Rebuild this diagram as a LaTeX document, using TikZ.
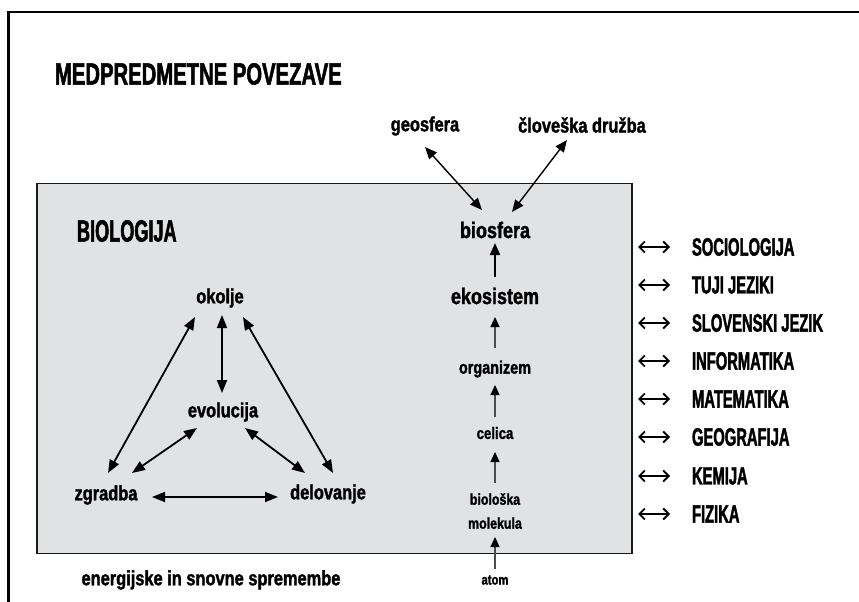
\documentclass[tikz,border=0pt]{standalone}
\usepackage{fontspec}
\setmainfont{Liberation Sans}
\newfontfamily\titlef{Liberation Sans}[FakeStretch=0.66, FakeBold=1.6]
\newfontfamily\capsf{Liberation Sans}[FakeStretch=0.59, FakeBold=1.6]
\newfontfamily\lowf{Liberation Sans}[FakeStretch=0.8, FakeBold=1.6]
\usetikzlibrary{arrows.meta}
\definecolor{boxgray}{HTML}{E1E2E4}
\tikzset{
  base/.style={inner sep=0pt, outer sep=0pt, text=black},
  capt/.style={base, font=\titlef\bfseries\fontsize{30.7}{34}\selectfont},
  capm/.style={base, font=\capsf\bfseries\fontsize{30.7}{34}\selectfont},
  capl/.style={base, font=\capsf\bfseries\fontsize{25}{28}\selectfont},
  lblb/.style={base, font=\lowf\bfseries\fontsize{22.5}{26}\selectfont},
  lblm/.style={base, font=\lowf\bfseries\fontsize{20.5}{24}\selectfont},
  lbls/.style={base, font=\lowf\bfseries\fontsize{15.5}{24}\selectfont},
  tri/.style={arrows={Triangle[length=13pt,width=10pt]-Triangle[length=13pt,width=10pt]}, line width=1.8pt},
  topar/.style={arrows={Triangle[length=12pt,width=10pt]-Triangle[length=12pt,width=10pt]}, line width=1.4pt},
  chainbig/.style={arrows={-Triangle[length=12pt,width=10pt]}, line width=2.2pt},
  chain/.style={arrows={-Triangle[length=10pt,width=9pt,color=black]}, line width=1.2pt, draw=black!70},
  listarr/.style={arrows={Straight Barb[length=5.5pt,width=11pt]-Straight Barb[length=5.5pt,width=11pt]}, line width=1.8pt},
}
\begin{document}
\begin{tikzpicture}[x=1pt,y=-1pt]
\useasboundingbox (0,0) rectangle (859,602);
% outer frame (cropped)
\draw[line width=2.6pt, line join=miter] (8.7,602) -- (8.7,12) -- (859,12);
% inner box
\draw[line width=1.6pt, draw=black!90, fill=boxgray] (37,183.5) rectangle (632,553.5);

% titles
\node[capt, anchor=west] (title) at (55,74) {MEDPREDMETNE POVEZAVE};
\node[capm, anchor=west] (bio) at (77,231) {BIOLOGIJA};

% top labels
\node[lblm] (geo) at (425,126) {geosfera};
\node[lblm] (clov) at (582,125) {človeška družba};

% chain
\node[lblb] (biosfera) at (495,230) {biosfera};
\node[lblb] (ekosistem) at (495,296) {ekosistem};
\node[base, font=\lowf\bfseries\fontsize{18}{22}\selectfont] (organizem) at (495,369) {organizem};
\node[base, font=\lowf\bfseries\fontsize{16.5}{20}\selectfont] (celica) at (495,433) {celica};
\node[lbls, align=center] (biomol) at (495,511) {biološka\\molekula};
\node[base, font=\lowf\bfseries\fontsize{14.1}{17}\selectfont] (atom) at (495,580) {atom};

% triangle
\node[lblm] (okolje) at (220,298) {okolje};
\node[lblm] (evolucija) at (223,412) {evolucija};
\node[lblm] (zgradba) at (106,495) {zgradba};
\node[lblm] (delovanje) at (328,494) {delovanje};

\node[lblm] (energ) at (211,580) {energijske in snovne spremembe};

% subject list
\node[capl, anchor=west] (soc) at (692,247) {SOCIOLOGIJA};
\node[capl, anchor=west] (tuj) at (692,285) {TUJI JEZIKI};
\node[capl, anchor=west] (slo) at (692,323) {SLOVENSKI JEZIK};
\node[capl, anchor=west] (inf) at (692,361) {INFORMATIKA};
\node[capl, anchor=west] (mat) at (692,399) {MATEMATIKA};
\node[capl, anchor=west] (geog) at (692,437) {GEOGRAFIJA};
\node[capl, anchor=west] (kem) at (692,476) {KEMIJA};
\node[capl, anchor=west] (fiz) at (692,514) {FIZIKA};
\foreach \n in {soc,tuj,slo,inf,mat,geog,kem,fiz}
  \draw[listarr] ([xshift=-54pt]\n.west) -- ([xshift=-22pt]\n.west);

% top arrows
\draw[topar] ([shift={(0,21)}]geo.center) -- ([shift={(-13,-20)}]biosfera.center);
\draw[topar] ([shift={(-15,15)}]clov.center) -- ([shift={(17,-18)}]biosfera.center);

% chain arrows
\draw[chainbig] ([shift={(0,-19)}]ekosistem.center) -- ([shift={(0,13)}]biosfera.center);
\draw[chain] ([shift={(0,-21)}]organizem.center) -- ([shift={(0,21)}]ekosistem.center);
\draw[chain] ([shift={(0,-16)}]celica.center) -- ([shift={(0,16)}]organizem.center);
\draw[chain] ([shift={(0,-28)}]biomol.center) -- ([shift={(0,19)}]celica.center);
\draw[chain] ([shift={(0,-11)}]atom.center) -- ([shift={(0,26)}]biomol.center);

% triangle arrows
\draw[tri] ([shift={(-25,19)}]okolje.center) -- ([shift={(2,-22)}]zgradba.center);
\draw[tri] ([shift={(2,17)}]okolje.center) -- ([shift={(-1,-19)}]evolucija.center);
\draw[tri] ([shift={(23,19)}]okolje.center) -- ([shift={(5,-21)}]delovanje.center);
\draw[tri] ([shift={(-26,16)}]evolucija.center) -- ([shift={(26,-22)}]zgradba.center);
\draw[tri] ([shift={(22,16)}]evolucija.center) -- ([shift={(-23,-21)}]delovanje.center);
\draw[tri] ([shift={(46,2)}]zgradba.center) -- ([shift={(-50,3)}]delovanje.center);
\end{tikzpicture}
\end{document}
